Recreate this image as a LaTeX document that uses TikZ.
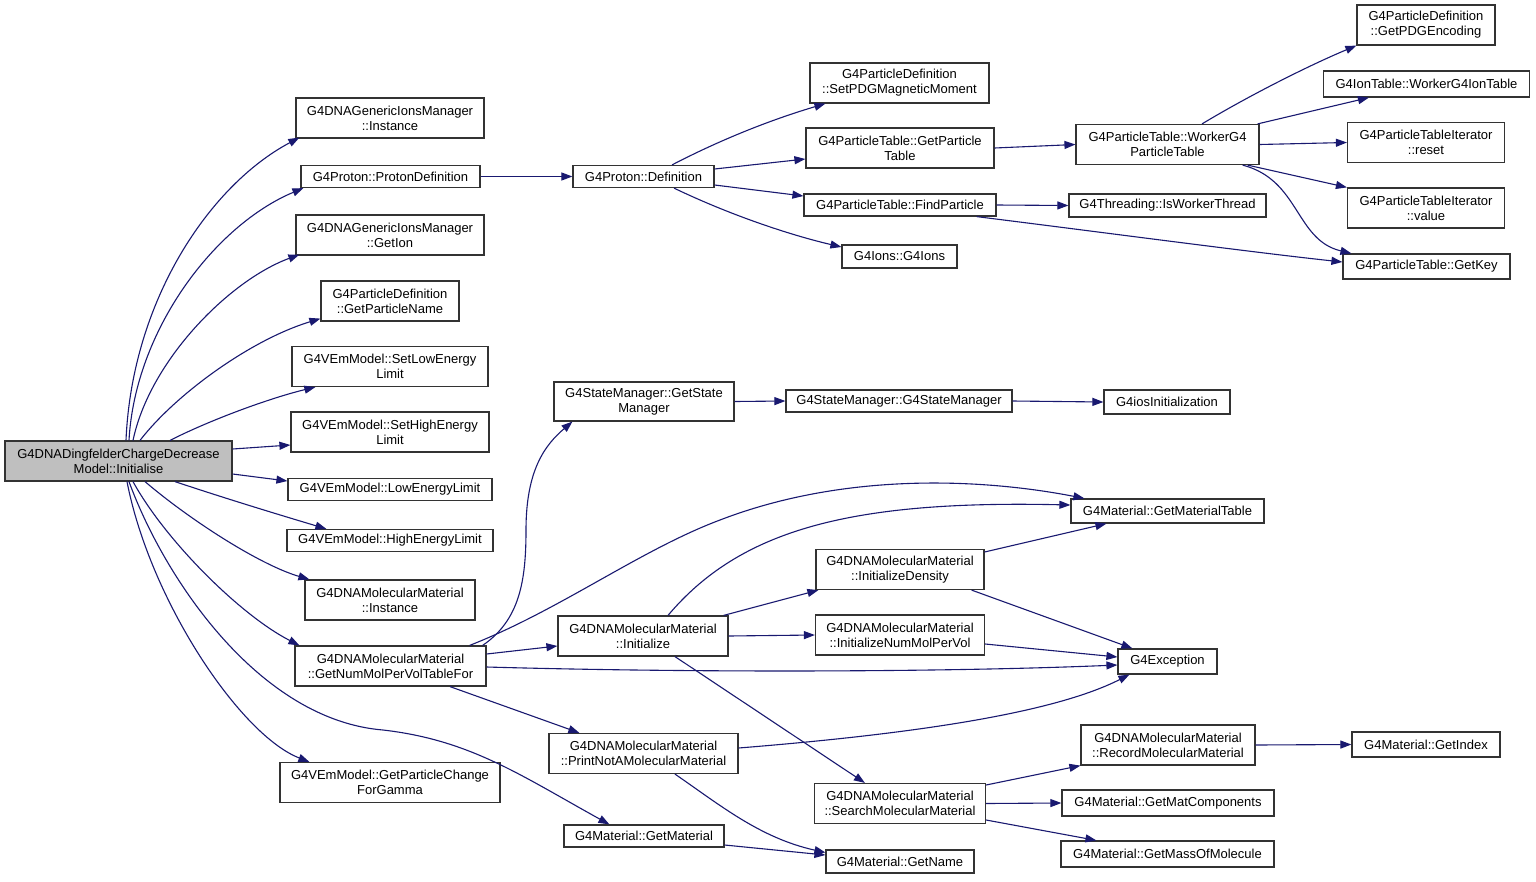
\documentclass[tikz,border=0pt]{standalone}
\usepackage{fontspec}
\setmainfont{Liberation Sans}
\usetikzlibrary{arrows.meta,calc}
\definecolor{edgec}{HTML}{191970}
\definecolor{grayfill}{HTML}{BFBFBF}
\definecolor{boxline}{HTML}{333333}
\tikzset{
  nd/.style={draw=boxline, line width=1.2pt, fill=white, align=center, inner sep=0pt,
     font=\fontsize{13}{15}\selectfont},
  lnk/.style={draw=edgec, line width=1.1pt, -{Triangle[length=11pt,width=8pt]}},
}
\begin{document}
\begin{tikzpicture}[x=1pt,y=-1pt]
\useasboundingbox[fill=white] (0,0) rectangle (1536,881);
% column 1
\node[nd, fill=grayfill, minimum width=227pt, minimum height=40pt] (init) at (118.5,461) {G4DNADingfelderChargeDecrease\\Model::Initialise};
% column 2
\node[nd, minimum width=188pt, minimum height=40pt] (gimI) at (390,118) {G4DNAGenericIonsManager\\::Instance};
\node[nd, minimum width=179pt, minimum height=22pt] (pdef) at (390.5,176.5) {G4Proton::ProtonDefinition};
\node[nd, minimum width=188pt, minimum height=40pt] (gimG) at (390,235) {G4DNAGenericIonsManager\\::GetIon};
\node[nd, minimum width=138pt, minimum height=40pt] (gpn) at (390,301) {G4ParticleDefinition\\::GetParticleName};
\node[nd, minimum width=196pt, minimum height=40pt] (setLow) at (390,366.5) {G4VEmModel::SetLowEnergy\\Limit};
\node[nd, minimum width=198pt, minimum height=40pt] (setHigh) at (390,432) {G4VEmModel::SetHighEnergy\\Limit};
\node[nd, minimum width=204pt, minimum height=22pt] (low) at (390,489.5) {G4VEmModel::LowEnergyLimit};
\node[nd, minimum width=206pt, minimum height=22pt] (high) at (390,540.5) {G4VEmModel::HighEnergyLimit};
\node[nd, minimum width=170pt, minimum height=40pt] (mmI) at (390,600) {G4DNAMolecularMaterial\\::Instance};
\node[nd, minimum width=191pt, minimum height=40pt] (gnm) at (390.5,666) {G4DNAMolecularMaterial\\::GetNumMolPerVolTableFor};
\node[nd, minimum width=220pt, minimum height=40pt] (gpc) at (390,782.5) {G4VEmModel::GetParticleChange\\ForGamma};
% column 3
\node[nd, minimum width=141pt, minimum height=22pt] (def) at (643.5,176.5) {G4Proton::Definition};
\node[nd, minimum width=180pt, minimum height=39pt] (gsm) at (644,401.5) {G4StateManager::GetState\\Manager};
\node[nd, minimum width=170pt, minimum height=40pt] (initz) at (643,636) {G4DNAMolecularMaterial\\::Initialize};
\node[nd, minimum width=189pt, minimum height=40pt] (pnam) at (643.5,753.5) {G4DNAMolecularMaterial\\::PrintNotAMolecularMaterial};
\node[nd, minimum width=160pt, minimum height=22pt] (gmat) at (644,836) {G4Material::GetMaterial};
% column 4
\node[nd, minimum width=179pt, minimum height=40pt] (setPDG) at (899.5,83) {G4ParticleDefinition\\::SetPDGMagneticMoment};
\node[nd, minimum width=188pt, minimum height=40pt] (gpt) at (900,148) {G4ParticleTable::GetParticle\\Table};
\node[nd, minimum width=192pt, minimum height=22pt] (find) at (900,205) {G4ParticleTable::FindParticle};
\node[nd, minimum width=115pt, minimum height=23pt] (ions) at (899.5,256.5) {G4Ions::G4Ions};
\node[nd, minimum width=226pt, minimum height=22pt] (sm) at (899,401) {G4StateManager::G4StateManager};
\node[nd, minimum width=168pt, minimum height=40pt] (idens) at (900,569.5) {G4DNAMolecularMaterial\\::InitializeDensity};
\node[nd, minimum width=169pt, minimum height=40pt] (inmpv) at (900,635) {G4DNAMolecularMaterial\\::InitializeNumMolPerVol};
\node[nd, minimum width=171pt, minimum height=40pt] (search) at (900,803.5) {G4DNAMolecularMaterial\\::SearchMolecularMaterial};
\node[nd, minimum width=148pt, minimum height=23pt] (name) at (900,861.5) {G4Material::GetName};
% column 5
\node[nd, minimum width=183pt, minimum height=40pt] (worker) at (1167.5,144.5) {G4ParticleTable::WorkerG4\\ParticleTable};
\node[nd, minimum width=197pt, minimum height=23pt] (thread) at (1167.5,205.5) {G4Threading::IsWorkerThread};
\node[nd, minimum width=126pt, minimum height=24pt] (ios) at (1167,402) {G4iosInitialization};
\node[nd, minimum width=193pt, minimum height=24pt] (gmt) at (1167.5,511) {G4Material::GetMaterialTable};
\node[nd, minimum width=99pt, minimum height=25pt] (exc) at (1167.5,661.5) {G4Exception};
\node[nd, minimum width=174pt, minimum height=40pt] (record) at (1168,745) {G4DNAMolecularMaterial\\::RecordMolecularMaterial};
\node[nd, minimum width=212pt, minimum height=26pt] (matComp) at (1168,803) {G4Material::GetMatComponents};
\node[nd, minimum width=213pt, minimum height=26pt] (mass) at (1167.5,854) {G4Material::GetMassOfMolecule};
% column 6
\node[nd, minimum width=138pt, minimum height=40pt] (pdgEnc) at (1426,25) {G4ParticleDefinition\\::GetPDGEncoding};
\node[nd, minimum width=206pt, minimum height=26pt] (ionTab) at (1426.5,84) {G4IonTable::WorkerG4IonTable};
\node[nd, minimum width=157pt, minimum height=40pt] (reset) at (1426,142.5) {G4ParticleTableIterator\\::reset};
\node[nd, minimum width=157pt, minimum height=40pt] (value) at (1426,208) {G4ParticleTableIterator\\::value};
\node[nd, minimum width=167pt, minimum height=25pt] (key) at (1426.5,266.5) {G4ParticleTable::GetKey};
\node[nd, minimum width=148pt, minimum height=25pt] (index) at (1426,744.5) {G4Material::GetIndex};

% edges from Initialise
\draw[lnk] ($(init.north)+(7.5,0)$) .. controls (132,300) and (210,185) .. ($(gimI.south west)+(4,-1)$);
\draw[lnk] ($(init.north)+(10.5,0)$) .. controls (135,330) and (215,225) .. ($(pdef.south west)+(3,0)$);
\draw[lnk] ($(init.north)+(14.5,0)$) .. controls (150,360) and (230,280) .. ($(gimG.south west)+(4,-1)$);
\draw[lnk] ($(init.north)+(21.5,0)$) .. controls (175,395) and (250,340) .. ($(gpn.south west)+(0,-3)$);
\draw[lnk] ($(init.north)+(51.5,0)$) .. controls (210,420) and (270,398) .. ($(setLow.south west)+(24,0)$);
\draw[lnk] ($(init.east)+(0,-12)$) -- ($(setHigh.west)+(0,13)$);
\draw[lnk] ($(init.east)+(0,13)$) -- ($(low.west)+(0,-8.5)$);
\draw[lnk] ($(init.south)+(56.5,0)$) .. controls (230,500) and (290,518) .. ($(high.north west)+(40,0)$);
\draw[lnk] ($(init.south)+(26.5,0)$) .. controls (190,520) and (260,565) .. ($(mmI.north west)+(5,0)$);
\draw[lnk] ($(init.south)+(14.5,0)$) .. controls (165,540) and (240,615) .. ($(gnm.north west)+(5,0)$);
\draw[lnk] ($(init.south)+(8.5,0)$) .. controls (150,600) and (240,735) .. ($(gpc.north west)+(30,0)$);
\draw[lnk] ($(init.south)+(10.5,0)$) .. controls (165,580) and (260,720) .. (383,730)
   .. controls (470,740) and (520,775) .. ($(gmat.north west)+(46,0)$);

% proton branch
\draw[lnk] (pdef.east) -- (def.west);
\draw[lnk] ($(def.north)+(28.5,0)$) .. controls (720,140) and (770,120) .. ($(setPDG.south west)+(16,0)$);
\draw[lnk] ($(def.east)+(0,-7.5)$) -- ($(gpt.west)+(0,11)$);
\draw[lnk] ($(def.east)+(0,8.5)$) -- ($(find.west)+(0,-9)$);
\draw[lnk] ($(def.south)+(30.5,0)$) .. controls (730,215) and (790,235) .. ($(ions.west)+(0,-9.5)$);
\draw[lnk] (gpt.east) -- (worker.west);
\draw[lnk] (find.east) -- (thread.west);
\draw[lnk] ($(find.south east)+(-20,0)$) .. controls (1100,232) and (1250,252) .. ($(key.west)+(0,-4.5)$);
\draw[lnk] ($(worker.north)+(34.5,0)$) .. controls (1250,95) and (1310,65) .. (pdgEnc.south west);
\draw[lnk] ($(worker.north east)+(-2,0)$) -- ($(ionTab.south west)+(46,0)$);
\draw[lnk] (worker.east) -- (reset.west);
\draw[lnk] ($(worker.south east)+(-12,0)$) -- (value.north west);
\draw[lnk] ($(worker.south east)+(-17,0)$) .. controls (1300,180) and (1295,240) .. ($(key.north west)+(9,0)$);

% GetNumMolPerVolTableFor branch
\draw[lnk] ($(gnm.north east)+(-4,0)$) .. controls (520,620) and (526,580) .. (526,530)
   .. controls (526,470) and (545,445) .. ($(gsm.south west)+(19,0)$);
\draw[lnk] (gsm.east) -- (sm.west);
\draw[lnk] (sm.east) -- (ios.west);
\draw[lnk] ($(gnm.north east)+(-17,0)$) .. controls (560,610) and (640,550) .. (720,520)
   .. controls (850,470) and (990,480) .. ($(gmt.north west)+(14,0)$);
\draw[lnk] ($(gnm.east)+(0,-12)$) -- ($(initz.west)+(0,10)$);
\draw[lnk] ($(gnm.east)+(0,1)$) .. controls (700,673) and (950,672) .. ($(exc.west)+(0,3.5)$);
\draw[lnk] ($(gnm.south)+(59.5,0)$) -- ($(pnam.north west)+(31,0)$);

% Initialize branch
\draw[lnk] ($(initz.north)+(25,0)$) .. controls (740,530) and (850,500) .. ($(gmt.west)+(0,-6)$);
\draw[lnk] ($(initz.north east)+(-5,0)$) -- ($(idens.south west)+(3,0)$);
\draw[lnk] (initz.east) -- (inmpv.west);
\draw[lnk] ($(initz.south)+(32,0)$) -- ($(search.north west)+(51,0)$);
\draw[lnk] ($(idens.east)+(0,-17.5)$) -- ($(gmt.south west)+(36,0)$);
\draw[lnk] ($(idens.south east)+(-13,0)$) -- ($(exc.north west)+(15,0)$);
\draw[lnk] ($(inmpv.east)+(0,9)$) -- ($(exc.west)+(0,-4.5)$);
\draw[lnk] ($(pnam.east)+(0,-5.5)$) .. controls (900,735) and (1050,715) .. ($(exc.south west)+(12,0)$);
\draw[lnk] ($(pnam.south)+(31.5,0)$) .. controls (720,805) and (760,838) .. ($(name.west)+(0,-9)$);
\draw[lnk] ($(gmat.east)+(0,9)$) -- ($(name.west)+(0,-6.5)$);
\draw[lnk] ($(search.east)+(0,-18.5)$) -- (record.south west);
\draw[lnk] (search.east) -- (matComp.west);
\draw[lnk] ($(search.east)+(0,16.5)$) -- ($(mass.north west)+(36,0)$);
\draw[lnk] (record.east) -- (index.west);
\end{tikzpicture}
\end{document}
